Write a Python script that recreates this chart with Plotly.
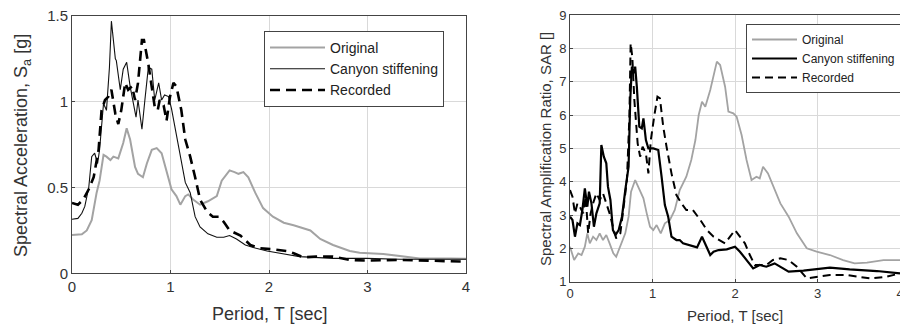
import plotly.graph_objects as go

# ---------------- Left panel: Spectral acceleration ----------------
sa_orig_T = [0, 0.1, 0.15, 0.2, 0.25, 0.28, 0.32, 0.35, 0.39, 0.42, 0.47, 0.52, 0.555, 0.59, 0.64, 0.67, 0.72, 0.76,
             0.81, 0.86, 0.91, 0.96, 1.01, 1.06, 1.10, 1.15, 1.18, 1.23, 1.30, 1.38, 1.47, 1.52, 1.60, 1.65, 1.69,
             1.74, 1.79, 1.86, 1.94, 2.04, 2.15, 2.25, 2.31, 2.42, 2.52, 2.65, 2.82, 2.92, 3.16, 3.33, 3.53, 3.84, 4.0]
sa_orig = [0.223, 0.227, 0.25, 0.31, 0.47, 0.54, 0.69, 0.68, 0.66, 0.68, 0.67, 0.76, 0.845, 0.78, 0.62, 0.58, 0.56,
           0.64, 0.72, 0.73, 0.70, 0.60, 0.49, 0.45, 0.40, 0.45, 0.46, 0.43, 0.40, 0.42, 0.45, 0.54, 0.60, 0.59, 0.58,
           0.59, 0.56, 0.47, 0.38, 0.33, 0.295, 0.28, 0.27, 0.25, 0.20, 0.165, 0.13, 0.12, 0.113, 0.10, 0.087, 0.087,
           0.085]

sa_canyon_T = [0, 0.06, 0.1, 0.13, 0.17, 0.2, 0.23, 0.26, 0.28, 0.32, 0.35, 0.38, 0.40, 0.42, 0.44, 0.45, 0.49, 0.52,
               0.555, 0.59, 0.62, 0.65, 0.67, 0.71, 0.74, 0.775, 0.81, 0.84, 0.88, 0.91, 0.94, 0.98, 1.01, 1.05, 1.10,
               1.15, 1.20, 1.25, 1.30, 1.38, 1.47, 1.54, 1.60, 1.67, 1.76, 1.84, 1.98, 2.15, 2.31, 2.65, 2.99, 3.33,
               3.84, 4.0]
sa_canyon = [0.315, 0.32, 0.35, 0.39, 0.50, 0.68, 0.70, 0.64, 0.72, 0.99, 0.95, 1.20, 1.47, 1.36, 1.25, 1.24, 1.07,
             1.19, 1.23, 1.09, 1.01, 0.91, 1.01, 0.84, 1.01, 1.20, 1.19, 1.01, 1.11, 1.01, 1.04, 1.03, 0.96, 0.84, 0.68,
             0.53, 0.47, 0.33, 0.27, 0.23, 0.21, 0.21, 0.22, 0.20, 0.165, 0.15, 0.13, 0.113, 0.097, 0.087, 0.087, 0.082,
             0.082, 0.082]

sa_rec_T = [0, 0.06, 0.115, 0.17, 0.22, 0.27, 0.30, 0.335, 0.37, 0.40, 0.44, 0.47, 0.50, 0.54, 0.57, 0.61, 0.64,
            0.67, 0.71, 0.73, 0.775, 0.81, 0.84, 0.87, 0.89, 0.93, 0.96, 0.995, 1.03, 1.06, 1.11, 1.15, 1.20, 1.25,
            1.30, 1.37, 1.43, 1.49, 1.54, 1.60, 1.71, 1.81, 1.91, 2.04, 2.18, 2.25, 2.35, 2.48, 2.65, 2.82, 2.99,
            3.33, 3.84, 4.0]
sa_rec = [0.41, 0.40, 0.43, 0.49, 0.56, 0.72, 0.95, 1.01, 1.03, 1.07, 0.93, 0.87, 0.95, 1.11, 1.07, 1.09, 1.01, 1.11,
          1.36, 1.36, 1.22, 1.07, 0.97, 0.95, 1.01, 0.98, 0.89, 1.03, 1.11, 1.09, 0.95, 0.78, 0.68, 0.56, 0.43, 0.36,
          0.33, 0.33, 0.30, 0.25, 0.22, 0.165, 0.146, 0.14, 0.13, 0.117, 0.093, 0.097, 0.097, 0.078, 0.074, 0.078,
          0.068, 0.068]

# ---------------- Right panel: Spectral amplification ratio ----------------
sar_orig_T = [0, 0.05, 0.10, 0.14, 0.18, 0.21, 0.24, 0.28, 0.32, 0.36, 0.40, 0.44, 0.48, 0.525, 0.56, 0.61, 0.67,
              0.71, 0.74, 0.79, 0.85, 0.89, 0.93, 0.97, 1.01, 1.05, 1.10, 1.15, 1.21, 1.27, 1.33, 1.41, 1.47, 1.52,
              1.56, 1.60, 1.64, 1.70, 1.78, 1.82, 1.88, 1.92, 1.98, 2.02, 2.08, 2.14, 2.20, 2.26, 2.30, 2.34, 2.40,
              2.48, 2.55, 2.65, 2.75, 2.87, 2.99, 3.15, 3.31, 3.45, 3.60, 3.80, 4.0]
sar_orig = [2.05, 1.65, 1.85, 1.8, 2.05, 2.45, 2.15, 2.35, 2.25, 2.45, 2.25, 2.4, 2.15, 1.85, 1.75, 2.05, 2.45, 2.95,
            3.7, 4.05, 3.75, 3.5, 3.05, 2.65, 2.55, 2.7, 2.45, 2.75, 2.85, 3.15, 3.75, 4.15, 4.65, 5.25, 6.0, 6.4, 6.25,
            6.75, 7.6, 7.5, 6.85, 6.1, 6.05, 5.95, 5.4, 4.65, 4.05, 4.15, 4.1, 4.45, 4.25, 3.75, 3.35, 2.95, 2.45, 2.0,
            1.9, 1.8, 1.65, 1.55, 1.57, 1.65, 1.65]

sar_canyon_T = [0, 0.03, 0.06, 0.09, 0.12, 0.15, 0.18, 0.21, 0.23, 0.26, 0.29, 0.32, 0.36, 0.38, 0.41, 0.44, 0.46,
                0.49, 0.52, 0.55, 0.59, 0.63, 0.67, 0.71, 0.73, 0.75, 0.77, 0.79, 0.81, 0.84, 0.87, 0.89, 0.92, 0.95,
                1.01, 1.07, 1.11, 1.15, 1.19, 1.23, 1.29, 1.33, 1.37, 1.43, 1.49, 1.54, 1.60, 1.64, 1.70, 1.74, 1.80,
                1.90, 2.00, 2.06, 2.14, 2.22, 2.30, 2.38, 2.48, 2.55, 2.65, 2.83, 2.99, 3.15, 3.39, 3.72, 4.0]
sar_canyon = [2.95, 2.85, 2.35, 2.75, 2.7, 3.15, 3.8, 3.25, 3.7, 3.35, 2.65, 3.05, 3.35, 5.1, 4.75, 4.55, 3.85, 3.45,
              2.55, 2.4, 2.55, 2.95, 3.75, 4.45, 6.45, 7.45, 7.25, 7.45, 6.85, 5.65, 5.6, 5.9, 5.25, 5.0, 5.0, 4.95,
              4.15, 3.3, 2.95, 2.35, 2.25, 2.25, 2.15, 2.1, 2.05, 2.03, 2.35, 2.15, 1.8, 1.9, 1.95, 1.97, 2.05, 1.9,
              1.65, 1.4, 1.5, 1.45, 1.55, 1.45, 1.3, 1.33, 1.37, 1.42, 1.37, 1.32, 1.25]

sar_rec_T = [0, 0.03, 0.06, 0.09, 0.12, 0.16, 0.19, 0.22, 0.25, 0.28, 0.32, 0.36, 0.40, 0.44, 0.48, 0.52, 0.56, 0.61,
             0.65, 0.69, 0.72, 0.735, 0.755, 0.78, 0.82, 0.85, 0.88, 0.92, 0.95, 0.98, 1.02, 1.06, 1.09, 1.13, 1.17,
             1.23, 1.29, 1.35, 1.41, 1.49, 1.58, 1.66, 1.74, 1.82, 1.88, 1.94, 2.00, 2.06, 2.12, 2.18, 2.24, 2.30,
             2.38, 2.46, 2.55, 2.65, 2.75, 2.87, 2.99, 3.15, 3.35, 3.64, 3.84, 4.0]
sar_rec = [3.75, 3.55, 3.05, 3.35, 3.25, 3.05, 3.55, 2.45, 3.05, 3.35, 3.65, 3.45, 3.65, 3.35, 3.05, 2.65, 2.3, 2.45,
           3.25, 4.05, 5.95, 8.15, 7.75, 6.45, 5.15, 4.75, 5.05, 4.85, 4.25, 5.25, 5.95, 6.55, 6.5, 5.65, 5.05, 4.25,
           3.6, 3.35, 3.15, 3.15, 2.85, 2.55, 2.35, 2.23, 2.15, 2.35, 2.55, 2.35, 2.15, 1.8, 1.5, 1.5, 1.5, 1.65, 1.7,
           1.65, 1.45, 1.1, 1.15, 1.2, 1.2, 1.1, 1.15, 1.25]

names = ["Original", "Canyon stiffening", "Recorded"]
x_ticks = [0, 1, 2, 3, 4]

GRAY = "#a3a3a3"
FONT = "Liberation Sans, Arial, sans-serif"

fig = go.Figure()

# left
fig.add_trace(go.Scatter(x=sa_orig_T, y=sa_orig, mode="lines", name=names[0],
                         line=dict(color=GRAY, width=2), xaxis="x", yaxis="y", legend="legend"))
fig.add_trace(go.Scatter(x=sa_canyon_T, y=sa_canyon, mode="lines", name=names[1],
                         line=dict(color="#111111", width=1.1), xaxis="x", yaxis="y", legend="legend"))
fig.add_trace(go.Scatter(x=sa_rec_T, y=sa_rec, mode="lines", name=names[2],
                         line=dict(color="#000000", width=2.6, dash="10px,6px"), xaxis="x", yaxis="y",
                         legend="legend"))
# right
fig.add_trace(go.Scatter(x=sar_orig_T, y=sar_orig, mode="lines", name=names[0],
                         line=dict(color=GRAY, width=1.8), xaxis="x2", yaxis="y2", legend="legend2"))
fig.add_trace(go.Scatter(x=sar_canyon_T, y=sar_canyon, mode="lines", name=names[1],
                         line=dict(color="#000000", width=2.2), xaxis="x2", yaxis="y2", legend="legend2"))
fig.add_trace(go.Scatter(x=sar_rec_T, y=sar_rec, mode="lines", name=names[2],
                         line=dict(color="#000000", width=2, dash="8px,5px"), xaxis="x2", yaxis="y2",
                         legend="legend2"))

axis_common = dict(showgrid=True, gridcolor="#d9d9d9", gridwidth=1, zeroline=False, showline=True,
                   linecolor="#444444", linewidth=1, mirror=True, ticks="inside", ticklen=3,
                   tickcolor="#444444", ticklabeloverflow="allow")

W, H = 900, 324
fig.update_layout(
    width=W, height=H, margin=dict(l=0, r=0, t=0, b=0, autoexpand=False),
    paper_bgcolor="white", plot_bgcolor="white",
    font=dict(family=FONT, color="#333333"),
    xaxis=dict(domain=[72 / W, 466 / W], range=[0, 4], tickvals=x_ticks, tickfont=dict(size=15),
               anchor="y", **axis_common),
    yaxis=dict(domain=[1 - 273.3 / H, 1 - 16 / H], range=[0, 1.5], tickvals=[0, 0.5, 1, 1.5],
               ticktext=["0", "0.5", "1", "1.5"], tickfont=dict(size=15), anchor="x", **axis_common),
    xaxis2=dict(domain=[570 / W, 1.0], range=[0, 4], tickvals=x_ticks, tickfont=dict(size=13),
                anchor="y2", **axis_common),
    yaxis2=dict(domain=[1 - 281.7 / H, 1 - 15 / H], range=[1, 9], tickvals=list(range(1, 10)),
                tickfont=dict(size=13), anchor="x2", **axis_common),
    legend=dict(x=264 / W, y=1 - 31 / H, xanchor="left", yanchor="top", bgcolor="white",
                bordercolor="#444444", borderwidth=1, font=dict(size=14, color="#222222"),
                tracegroupgap=0, itemwidth=55),
    legend2=dict(x=746 / W, y=1 - 24 / H, xanchor="left", yanchor="top", bgcolor="white",
                 bordercolor="#444444", borderwidth=1, font=dict(size=12, color="#222222"),
                 tracegroupgap=0, itemwidth=45),
    showlegend=True,
)

annotations = [
    dict(text="Spectral Acceleration, S<sub>a</sub> [g]", x=22 / W, y=1 - 146 / H, textangle=-90,
         font=dict(size=18, color="#333333")),
    dict(text="Period, T [sec]", x=269 / W, y=1 - 314 / H, font=dict(size=18, color="#333333")),
    dict(text="Spectral Amplification Ratio, SAR []", x=545 / W, y=1 - 149 / H, textangle=-90,
         font=dict(size=15, color="#333333")),
    dict(text="Period, T [sec]", x=735 / W, y=1 - 315 / H, font=dict(size=15, color="#333333")),
]
for a in annotations:
    a.update(xref="paper", yref="paper", showarrow=False, xanchor="center", yanchor="middle")
fig.update_layout(annotations=annotations)

fig.write_html("out.html")
